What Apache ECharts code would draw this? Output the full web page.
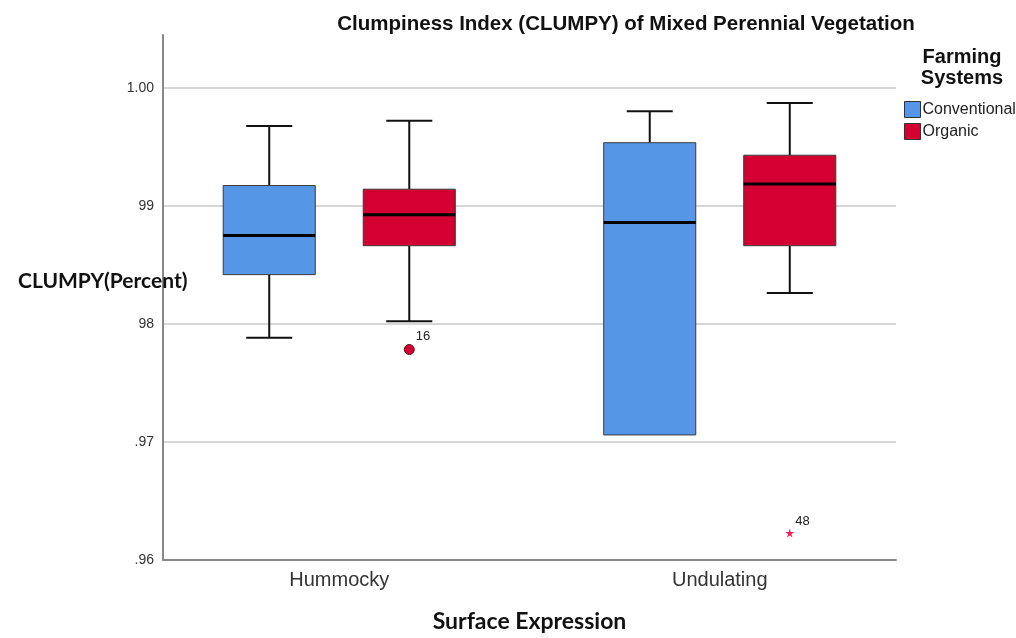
<!DOCTYPE html>
<html>
<head>
<meta charset="utf-8">
<script src="https://cdn.jsdelivr.net/npm/echarts@6/dist/echarts.min.js"></script>
<style>
  html, body { margin: 0; padding: 0; background: #fff; }
  #chart { width: 1016px; height: 638px; }
</style>
</head>
<body>
<div id="chart"></div>
<script>
// Surface expression groups along the x axis
const xCategories = ['Hummocky', 'Undulating'];
// Box statistics per group: [low whisker, Q1, median, Q3, high whisker]
const conventionalStats = [
  [0.97883, 0.98419, 0.98751, 0.99174, 0.99679],
  [0.97060, 0.97060, 0.98861, 0.99537, 0.99803]
];
const organicStats = [
  [0.98024, 0.98664, 0.98926, 0.99143, 0.99724],
  [0.98264, 0.98664, 0.99188, 0.99431, 0.99873]
];
// Individual cases: [group index, value, case number]
const organicOutliers = [[0, 0.97784, '16']];
const organicExtremes = [[1, 0.96228, '48']];
// Y tick labels from .96 to 1.00
const yTickValues = [0.96, 0.97, 0.98, 0.99, 1.00];
const yTickLabels = ['.96', '.97', '98', '99', '1.00'];

const COLOR_CONV = '#5596e6';
const COLOR_ORG = '#d50032';
const BOX_W = 0.242;     // box width in x-axis units
const OFFSET = 0.184;    // shift of each box from the group centre
const CAP_W = 0.121;     // whisker cap width

function boxRenderer(offset, color) {
  return function (params, api) {
    const x = api.value(0) + offset;
    const lo = api.coord([x, api.value(1)]);
    const q1 = api.coord([x, api.value(2)]);
    const md = api.coord([x, api.value(3)]);
    const q3 = api.coord([x, api.value(4)]);
    const hi = api.coord([x, api.value(5)]);
    const bw = api.size([BOX_W, 0])[0];
    const cw = api.size([CAP_W, 0])[0];
    const cx = hi[0];
    const lineStyle = { stroke: '#111', lineWidth: 2 };
    const children = [];
    if (hi[1] < q3[1] - 0.5) {
      children.push({ type: 'line', shape: { x1: cx, y1: hi[1], x2: cx, y2: q3[1] }, style: lineStyle });
      children.push({ type: 'line', shape: { x1: cx - cw / 2, y1: hi[1], x2: cx + cw / 2, y2: hi[1] }, style: lineStyle });
    }
    if (lo[1] > q1[1] + 0.5) {
      children.push({ type: 'line', shape: { x1: cx, y1: q1[1], x2: cx, y2: lo[1] }, style: lineStyle });
      children.push({ type: 'line', shape: { x1: cx - cw / 2, y1: lo[1], x2: cx + cw / 2, y2: lo[1] }, style: lineStyle });
    }
    children.push({
      type: 'rect',
      shape: { x: cx - bw / 2, y: q3[1], width: bw, height: q1[1] - q3[1] },
      style: { fill: color, stroke: '#3a3a3a', lineWidth: 1 }
    });
    children.push({
      type: 'line',
      shape: { x1: cx - bw / 2, y1: md[1], x2: cx + bw / 2, y2: md[1] },
      style: { stroke: '#000', lineWidth: 3 }
    });
    return { type: 'group', children: children };
  };
}

function boxData(stats) {
  return stats.map((s, i) => [i].concat(s));
}

const starPath = 'path://M50,0 L61,35 L98,35 L68,57 L79,91 L50,70 L21,91 L32,57 L2,35 L39,35 Z';

const chart = echarts.init(document.getElementById('chart'));
chart.setOption({
  animation: false,
  backgroundColor: '#fff',
  title: [
    {
      text: 'Clumpiness Index (CLUMPY) of Mixed Perennial Vegetation',
      left: 621, top: 9, textAlign: 'center',
      textStyle: { fontFamily: 'Liberation Sans', fontSize: 20.5, fontWeight: 'bold', color: '#111' }
    },
    {
      text: 'Farming\nSystems',
      left: 957, top: 42, textAlign: 'center',
      textStyle: { fontFamily: 'Liberation Sans', fontSize: 20, fontWeight: 'bold', color: '#111', lineHeight: 21 }
    },
    {
      text: 'CLUMPY(Percent)',
      left: 13, top: 266,
      textStyle: { fontFamily: 'Lato', fontSize: 21, fontWeight: 'bold', color: '#111' }
    }
  ],
  legend: {
    orient: 'vertical',
    left: 899, top: 96,
    itemWidth: 16, itemHeight: 16, itemGap: 5,
    icon: 'rect',
    textStyle: { fontFamily: 'Liberation Sans', fontSize: 16, color: '#222', padding: [0, 0, 0, -3] },
    data: [
      { name: 'Conventional', itemStyle: { color: COLOR_CONV, borderColor: '#333', borderWidth: 1 } },
      { name: 'Organic', itemStyle: { color: COLOR_ORG, borderColor: '#333', borderWidth: 1 } }
    ]
  },
  grid: { left: 163, right: 120, top: 35, bottom: 77 },
  xAxis: {
    type: 'value',
    min: -0.4632, max: 1.4632,
    name: 'Surface Expression',
    nameLocation: 'middle',
    nameGap: 50,
    nameTextStyle: { fontFamily: 'Lato', fontSize: 23, fontWeight: 'bold', color: '#111' },
    axisLine: { onZero: false, lineStyle: { color: '#888', width: 2 } },
    axisTick: { show: false },
    splitLine: { show: false },
    axisLabel: {
      customValues: [0, 1],
      formatter: v => xCategories[Math.round(v)] || '',
      fontFamily: 'Liberation Sans', fontSize: 20, color: '#333', margin: 10
    }
  },
  yAxis: {
    type: 'value',
    min: 0.96, max: 1.0045, interval: 0.01,
    axisLine: { show: true, onZero: false, lineStyle: { color: '#888', width: 2 } },
    axisTick: { show: false },
    splitLine: { show: true, showMaxLine: false, lineStyle: { color: '#d6d6d6', width: 2 } },
    axisLabel: {
      showMaxLabel: false,
      margin: 9,
      fontFamily: 'Liberation Sans', fontSize: 14, color: '#333',
      formatter: function (v) {
        for (let i = 0; i < yTickValues.length; i++) {
          if (Math.abs(v - yTickValues[i]) < 1e-6) return yTickLabels[i];
        }
        return '';
      }
    }
  },
  series: [
    {
      name: 'Conventional',
      type: 'custom',
      itemStyle: { color: COLOR_CONV },
      renderItem: boxRenderer(-OFFSET, COLOR_CONV),
      encode: { x: 0, y: [1, 2, 3, 4, 5] },
      data: boxData(conventionalStats),
      z: 3
    },
    {
      name: 'Organic',
      type: 'custom',
      itemStyle: { color: COLOR_ORG },
      renderItem: boxRenderer(OFFSET, COLOR_ORG),
      encode: { x: 0, y: [1, 2, 3, 4, 5] },
      data: boxData(organicStats),
      z: 3
    },
    {
      name: 'Organic',
      type: 'scatter',
      symbol: 'circle',
      symbolSize: 10,
      itemStyle: { color: COLOR_ORG, borderColor: '#5a0a1a', borderWidth: 1, opacity: 1 },
      data: organicOutliers.map(d => [d[0] + OFFSET, d[1], d[2]]),
      label: {
        show: true, position: 'right', distance: 1, offset: [0, -13],
        formatter: p => p.value[2],
        fontFamily: 'Liberation Sans', fontSize: 13, color: '#222'
      },
      z: 4
    },
    {
      name: 'Organic',
      type: 'scatter',
      symbol: starPath,
      symbolSize: 9,
      itemStyle: { color: '#e8285a', opacity: 1 },
      data: organicExtremes.map(d => [d[0] + OFFSET, d[1], d[2]]),
      label: {
        show: true, position: 'right', distance: 1, offset: [0, -12],
        formatter: p => p.value[2],
        fontFamily: 'Liberation Sans', fontSize: 13, color: '#222'
      },
      z: 4
    }
  ]
});
</script>
</body>
</html>
